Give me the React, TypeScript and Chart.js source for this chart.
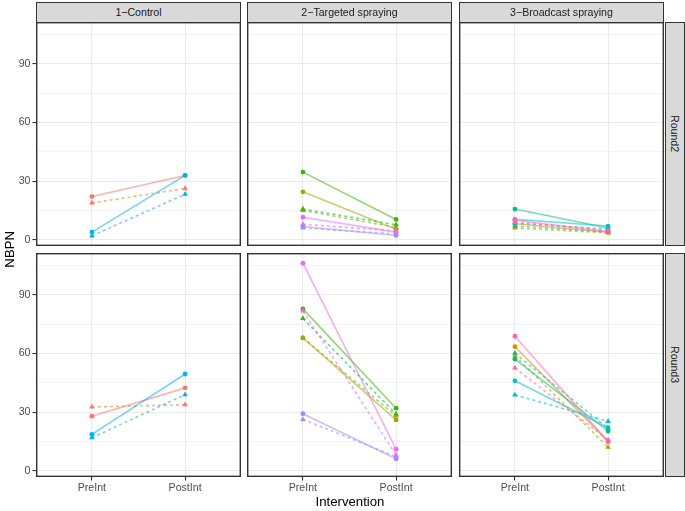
import React, { useEffect, useRef } from 'react';
import { Chart, registerables } from 'chart.js';

Chart.register(...registerables);

// ---------- data ----------
const interventions = ['PreInt', 'PostInt'];
const treatments = ['1−Control', '2−Targeted spraying', '3−Broadcast spraying'];
const rounds = ['Round2', 'Round3'];
const yMajorTicks = [0, 30, 60, 90];
const yMinorTicks = [15, 45, 75, 105];

// site colours (ggplot hue palette)
const pointPalette = ['#F8766D', '#D89000', '#A3A500', '#39B600', '#00BF7D', '#00BFC4', '#00B0F6', '#9590FF', '#E76BF3', '#FF62BC'];
const solidLinePalette = ['#F8766D', '#D89000', '#A3A500', '#39B600', '#00BF7D', '#00BFC4', '#00B0F6', '#9590FF', '#E76BF3', '#FF62BC'];
const dashedLinePalette = ['#EA8331', '#C09B00', '#7CAE00', '#00BB4E', '#00C1A3', '#00BAE0', '#35A2FF', '#C77CFF', '#FA62DB', '#FF6C91'];

const controlSites = [0, 6];
const targetedSites = [2, 3, 7, 8];
const broadcastSites = [1, 4, 5, 9];

// [PreInt, PostInt] per site — circles / solid lines
const controlR2Circle = [[22.1, 32.9], [3.9, 32.9]];
const controlR3Circle = [[27.9, 42.4], [18.6, 49.5]];
const targetedR2Circle = [[24.5, 5.4], [34.6, 10.4], [6.8, 2.2], [11.5, 3.9]];
const targetedR3Circle = [[68.0, 26.0], [82.8, 32.0], [29.2, 6.1], [106.2, 11.0]];
const broadcastR2Circle = [[8.2, 3.8], [15.7, 6.0], [10.4, 7.0], [10.0, 4.2]];
const broadcastR3Circle = [[63.5, 15.0], [57.1, 20.3], [46.0, 22.0], [68.8, 14.9]];

// [PreInt, PostInt] per site — triangles / dashed lines
const controlR2Triangle = [[18.8, 26.2], [2.0, 23.3]];
const controlR3Triangle = [[32.6, 33.8], [16.9, 38.9]];
const targetedR2Triangle = [[15.0, 6.3], [15.7, 7.7], [6.0, 3.0], [7.9, 4.5]];
const targetedR3Triangle = [[68.0, 28.0], [77.9, 29.0], [26.3, 7.2], [81.8, 8.0]];
const broadcastR2Triangle = [[6.0, 3.5], [7.0, 4.0], [8.5, 5.5], [9.0, 4.8]];
const broadcastR3Triangle = [[58.8, 12.1], [60.1, 21.7], [38.8, 25.3], [52.6, 15.7]];

const panelSites = [controlSites, targetedSites, broadcastSites];
const panelCircles = [
  [controlR2Circle, targetedR2Circle, broadcastR2Circle],
  [controlR3Circle, targetedR3Circle, broadcastR3Circle],
];
const panelTriangles = [
  [controlR2Triangle, targetedR2Triangle, broadcastR2Triangle],
  [controlR3Triangle, targetedR3Triangle, broadcastR3Triangle],
];

// ---------- layout ----------
const FONT = '"Liberation Sans", Arial, Helvetica, sans-serif';
const PANEL_LEFT = [36, 247, 459];
const PANEL_TOP = [22, 253];
const PANEL_W = 205;
const PANEL_H = 224;
const Y_AXIS_W = 36;
const X_AXIS_H = 22;
const Y_MIN = -3.2;
const Y_MAX = 111.4;

function alpha(hex: string, a: number) {
  const n = parseInt(hex.slice(1), 16);
  return `rgba(${(n >> 16) & 255},${(n >> 8) & 255},${n & 255},${a})`;
}

const panelBorder = {
  id: 'panelBorder',
  afterDraw(chart: any) {
    const { ctx, chartArea } = chart;
    const { left, top, right, bottom } = chartArea;
    ctx.save();
    ctx.strokeStyle = '#333333';
    ctx.lineWidth = 1.4;
    ctx.strokeRect(left + 0.7, top + 0.7, right - left - 1.4, bottom - top - 1.4);
    ctx.restore();
  },
};

function zeroPad(s: any) {
  s.paddingTop = 0;
  s.paddingBottom = 0;
  s.paddingLeft = 0;
  s.paddingRight = 0;
}

function buildDatasets(r: number, c: number) {
  const sites = panelSites[c];
  const circles = panelCircles[r][c];
  const triangles = panelTriangles[r][c];
  const lines: any[] = [];
  const points: any[] = [];
  let k = 0;
  sites.forEach((s, i) => {
    const tri = triangles[i].map((v, j) => ({ x: j + 1, y: v }));
    const cir = circles[i].map((v, j) => ({ x: j + 1, y: v }));
    // lower order is drawn later (on top): later sites on top, points above lines
    lines.push({
      data: tri, borderColor: alpha(dashedLinePalette[s], 0.6), borderWidth: 1.6,
      borderDash: [3, 3], pointRadius: 0, order: 1000 - k, fill: false,
    });
    points.push({
      data: tri, showLine: false, pointStyle: 'triangle', pointRadius: 3.2,
      pointBackgroundColor: pointPalette[s], pointBorderColor: pointPalette[s], pointBorderWidth: 0, order: 100 - k,
    });
    k++;
    lines.push({
      data: cir, borderColor: alpha(solidLinePalette[s], 0.55), borderWidth: 1.6,
      pointRadius: 0, order: 1000 - k, fill: false,
    });
    points.push({
      data: cir, showLine: false, pointStyle: 'circle', pointRadius: 2.4,
      pointBackgroundColor: pointPalette[s], pointBorderColor: pointPalette[s], pointBorderWidth: 0, order: 100 - k,
    });
    k++;
  });
  return [...lines, ...points];
}

function Panel({ r, c }: { r: number; c: number }) {
  const ref = useRef<HTMLCanvasElement>(null);
  const showY = c === 0;
  const showX = r === rounds.length - 1;
  const w = PANEL_W + (showY ? Y_AXIS_W : 0);
  const h = PANEL_H + (showX ? X_AXIS_H : 0);
  const left = PANEL_LEFT[c] - (showY ? Y_AXIS_W : 0);
  const top = PANEL_TOP[r];

  useEffect(() => {
    const chart = new Chart(ref.current as HTMLCanvasElement, {
      type: 'line',
      data: { datasets: buildDatasets(r, c) },
      options: {
        animation: false,
        responsive: false,
        maintainAspectRatio: false,
        devicePixelRatio: 1,
        events: [],
        layout: { padding: 0, autoPadding: false },
        plugins: { legend: { display: false }, tooltip: { enabled: false } },
        scales: {
          x: {
            type: 'linear',
            min: 0.4,
            max: 2.6,
            afterBuildTicks: (s: any) => { s.ticks = interventions.map((_, i) => ({ value: i + 1 })); },
            afterFit: (s: any) => { s.height = showX ? X_AXIS_H : 0; zeroPad(s); },
            ticks: {
              display: showX,
              autoSkip: false,
              maxRotation: 0,
              padding: 1,
              color: '#4D4D4D',
              font: { family: FONT, size: 10.6 },
              callback: (v: any) => interventions[Math.round(v) - 1] ?? '',
            },
            grid: {
              color: '#EBEBEB',
              lineWidth: 1.1,
              drawTicks: true,
              tickLength: 3.5,
              tickColor: showX ? '#333333' : 'rgba(0,0,0,0)',
            },
            border: { display: false },
          },
          y: {
            type: 'linear',
            min: Y_MIN,
            max: Y_MAX,
            afterBuildTicks: (s: any) => {
              s.ticks = [...yMajorTicks, ...yMinorTicks].sort((a, b) => a - b).map((v) => ({ value: v }));
            },
            afterFit: (s: any) => { s.width = showY ? Y_AXIS_W : 0; zeroPad(s); },
            ticks: {
              display: showY,
              autoSkip: false,
              padding: 2,
              color: '#4D4D4D',
              font: { family: FONT, size: 10.6 },
              callback: (v: any) => (yMajorTicks.includes(v) ? String(v) : ''),
            },
            grid: {
              color: '#EBEBEB',
              lineWidth: (ctx: any) => (ctx.tick && yMajorTicks.includes(ctx.tick.value) ? 1.1 : 0.6),
              drawTicks: true,
              tickLength: 3.5,
              tickColor: (ctx: any) =>
                showY && ctx.tick && yMajorTicks.includes(ctx.tick.value) ? '#333333' : 'rgba(0,0,0,0)',
            },
            border: { display: false },
          },
        },
      } as any,
      plugins: [panelBorder],
    });
    return () => chart.destroy();
  }, [r, c]);

  return (
    <canvas
      ref={ref}
      width={w}
      height={h}
      style={{ position: 'absolute', left, top, width: w, height: h }}
    />
  );
}

export default function App() {
  const stripText: React.CSSProperties = {
    position: 'absolute',
    background: '#D9D9D9',
    border: '1.3px solid #333333',
    boxSizing: 'border-box',
    color: '#1A1A1A',
    fontFamily: FONT,
    fontSize: 10.6,
    display: 'flex',
    alignItems: 'center',
    justifyContent: 'center',
    whiteSpace: 'nowrap',
  };
  return (
    <div style={{ position: 'absolute', left: 0, top: 0, width: 685, height: 511, background: '#FFFFFF', overflow: 'hidden' }}>
      {rounds.map((_, r) => treatments.map((__, c) => <Panel key={`${r}-${c}`} r={r} c={c} />))}
      {treatments.map((t, c) => (
        <div key={t} style={{ ...stripText, left: PANEL_LEFT[c], top: 1.5, width: PANEL_W, height: PANEL_TOP[0] - 1.5 + 1.4 }}>
          {t}
        </div>
      ))}
      {rounds.map((rd, r) => (
        <div key={rd} style={{ ...stripText, left: 664.5, top: PANEL_TOP[r], width: 20, height: PANEL_H }}>
          <span style={{ writingMode: 'vertical-rl' }}>{rd}</span>
        </div>
      ))}
      <div style={{ position: 'absolute', left: 0, top: PANEL_TOP[0], width: 18, height: PANEL_TOP[1] + PANEL_H - PANEL_TOP[0], display: 'flex', alignItems: 'center', justifyContent: 'center', fontFamily: FONT, fontSize: 13.2, color: '#000' }}>
        <span style={{ writingMode: 'vertical-rl', transform: 'rotate(180deg)' }}>NBPN</span>
      </div>
      <div style={{ position: 'absolute', left: PANEL_LEFT[0], top: 493, width: PANEL_LEFT[2] + PANEL_W - PANEL_LEFT[0], height: 16, display: 'flex', alignItems: 'center', justifyContent: 'center', fontFamily: FONT, fontSize: 13.2, color: '#000' }}>
        Intervention
      </div>
    </div>
  );
}
